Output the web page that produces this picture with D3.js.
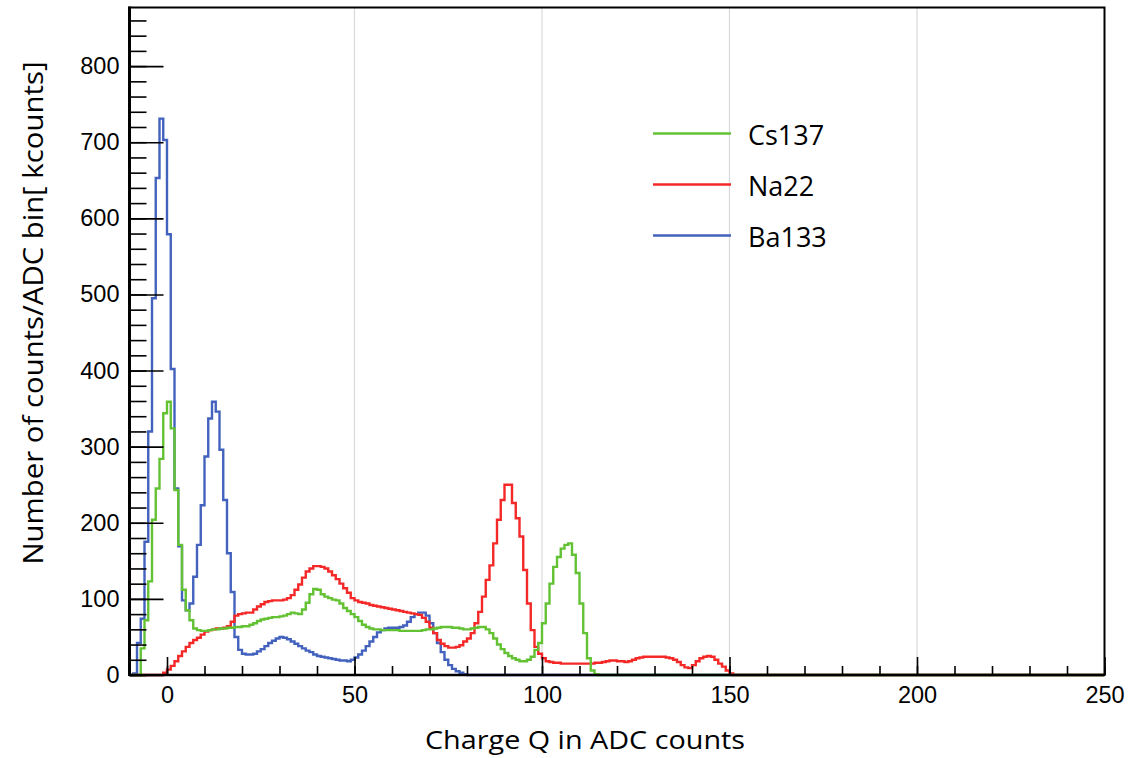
<!DOCTYPE html>
<html>
<head>
<meta charset="utf-8">
<script src="https://cdn.jsdelivr.net/npm/d3@7"></script>
<style>
  body { margin: 0; background: #fff; }
  svg { display: block; }
  .tick text { font-family: "Liberation Sans", Arial, sans-serif; font-size: 23.5px; fill: #000; }
</style>
</head>
<body>
<div id="container"></div>
<script>
// histogram range, 1 ADC count per bin
const xMin = -10, xMax = 250;
const yMax = 877;

// Ba133, first bin starts at -9
const ba133Start = -9;
const ba133 = [2, 42, 74, 175, 320, 495, 653, 731, 703, 579, 402, 245, 169, 98, 85, 94, 129, 171, 223, 287,
  337, 359, 346, 296, 230, 160, 109, 50, 33, 28, 27, 27, 28, 31, 34, 38, 42, 45, 48, 50,
  49, 47, 44, 41, 38, 35, 32, 30, 27, 25, 24, 23, 22, 21, 20, 19, 19, 18, 20, 23,
  27, 32, 38, 44, 50, 56, 59, 61, 62, 62, 62, 63, 65, 70, 76, 80, 82, 82, 78, 68,
  55, 42, 30, 20, 13, 8, 5, 3, 1];

// Cs137, first bin starts at -7
const cs137Start = -7;
const cs137 = [35, 72, 123, 204, 245, 284, 344, 359, 324, 243, 171, 112, 85, 72, 61, 59, 58, 58, 59, 60,
  60, 61, 61, 62, 62, 63, 63, 64, 64, 66, 68, 71, 73, 74, 75, 76, 76, 77, 78, 80,
  82, 81, 80, 86, 95, 106, 113, 112, 106, 103, 101, 99, 98, 94, 88, 84, 80, 76, 71, 66,
  63, 61, 60, 60, 59, 59, 59, 59, 59, 58, 58, 58, 58, 58, 58, 59, 60, 60, 61, 62,
  63, 63, 63, 62, 62, 61, 60, 60, 61, 62, 63, 63, 60, 55, 48, 40, 34, 29, 25, 22,
  20, 18, 18, 20, 24, 33, 42, 68, 94, 120, 142, 155, 166, 171, 173, 158, 134, 94, 55, 22,
  6, 1];

// Na22, first bin starts at -1
const na22Start = -1;
const na22 = [3, 7, 12, 18, 25, 31, 37, 42, 46, 49, 53, 57, 59, 60, 61, 61, 62, 64, 70, 78,
  80, 81, 82, 82, 86, 90, 93, 96, 97, 98, 98, 98, 99, 101, 105, 112, 119, 128, 136, 140,
  143, 143, 142, 140, 136, 131, 126, 120, 114, 108, 101, 98, 96, 95, 94, 92, 91, 90, 89, 88,
  87, 86, 85, 84, 83, 82, 81, 80, 79, 75, 70, 62, 55, 46, 41, 38, 36, 36, 37, 39,
  44, 48, 55, 68, 83, 103, 125, 144, 173, 204, 230, 250, 250, 226, 206, 182, 138, 94, 59, 37,
  28, 22, 18, 17, 16, 16, 15, 15, 15, 15, 15, 15, 15, 15, 15, 16, 16, 17, 18, 19,
  19, 18, 18, 17, 18, 20, 22, 23, 24, 24, 24, 24, 24, 24, 23, 22, 20, 17, 13, 10,
  9, 13, 18, 22, 24, 25, 24, 20, 15, 11, 6, 2];

const seriesNames = ["Cs137", "Na22", "Ba133"];
const xMajorTicks = [0, 50, 100, 150, 200, 250];
const xMinorTicks = d3.range(-10, 251, 10);
const yMajorTicks = [0, 100, 200, 300, 400, 500, 600, 700, 800];
const yMinorTicks = d3.range(0, 861, 20);
const gridValues = [50, 100, 150, 200];

const colors = { Cs137: "#63c234", Na22: "#f52828", Ba133: "#4262bd" };

const W = 1137, H = 758;
const pLeft = 129.5, pRight = 1104.5, pTop = 7.5, pBottom = 675;

const svg = d3.select("#container").append("svg").attr("width", W).attr("height", H);

const x = d3.scaleLinear().domain([xMin, xMax]).range([pLeft, pRight]);
const y = d3.scaleLinear().domain([0, yMax]).range([pBottom, pTop]);

// vertical grid
svg.append("g").selectAll("line").data(gridValues).enter().append("line")
    .attr("x1", d => x(d)).attr("x2", d => x(d))
    .attr("y1", pTop).attr("y2", pBottom)
    .attr("stroke", "#d9d9d9").attr("stroke-width", 1.2);

// fill bins from start to the full range
function fullBins(start, values) {
    const bins = [];
    for (let e = xMin; e < xMax; e++) {
        const i = e - start;
        bins.push({ edge: e, v: (i >= 0 && i < values.length) ? values[i] : 0 });
    }
    bins.push({ edge: xMax, v: 0 });
    return bins;
}

const series = [
    { name: "Ba133", bins: fullBins(ba133Start, ba133) },
    { name: "Na22", bins: fullBins(na22Start, na22) },
    { name: "Cs137", bins: fullBins(cs137Start, cs137) }
];

svg.append("clipPath").attr("id", "plot").append("rect")
    .attr("x", pLeft).attr("y", pTop).attr("width", pRight - pLeft).attr("height", pBottom - pTop + 2);

const line = d3.line().x(d => x(d.edge)).y(d => y(d.v)).curve(d3.curveStepAfter);

svg.append("g").attr("clip-path", "url(#plot)").selectAll("path").data(series).enter().append("path")
    .attr("d", d => line(d.bins))
    .attr("fill", "none")
    .attr("stroke", d => colors[d.name])
    .attr("stroke-width", 2.4);

// y ticks inside
svg.append("g").attr("transform", `translate(${pLeft},0)`)
    .call(d3.axisRight(y).tickValues(yMinorTicks).tickSize(17).tickFormat(""))
    .call(g => g.select(".domain").remove())
    .selectAll("line").attr("stroke", "#000").attr("stroke-width", 1.6);
svg.append("g").attr("transform", `translate(${pLeft},0)`)
    .call(d3.axisRight(y).tickValues(yMajorTicks).tickSize(34).tickFormat(""))
    .call(g => g.select(".domain").remove())
    .selectAll("line").attr("stroke", "#000").attr("stroke-width", 1.6);
svg.append("g").attr("transform", `translate(${pLeft},0)`)
    .call(d3.axisLeft(y).tickValues(yMajorTicks).tickSize(0).tickPadding(10))
    .call(g => g.select(".domain").remove());

// x ticks inside
svg.append("g").attr("transform", `translate(0,${pBottom})`)
    .call(d3.axisTop(x).tickValues(xMinorTicks).tickSize(9).tickFormat(""))
    .call(g => g.select(".domain").remove())
    .selectAll("line").attr("stroke", "#000").attr("stroke-width", 1.6);
svg.append("g").attr("transform", `translate(0,${pBottom})`)
    .call(d3.axisTop(x).tickValues(xMajorTicks).tickSize(18).tickFormat(""))
    .call(g => g.select(".domain").remove())
    .selectAll("line").attr("stroke", "#000").attr("stroke-width", 1.6);
svg.append("g").attr("transform", `translate(0,${pBottom})`)
    .call(d3.axisBottom(x).tickValues(xMajorTicks).tickSize(0).tickPadding(11))
    .call(g => g.select(".domain").remove());

// frame
svg.append("rect").attr("x", pLeft).attr("y", pTop).attr("width", pRight - pLeft).attr("height", pBottom - pTop)
    .attr("fill", "none").attr("stroke", "#000").attr("stroke-width", 2);
svg.append("line").attr("x1", pLeft).attr("x2", pLeft).attr("y1", pTop - 1).attr("y2", pBottom + 1)
    .attr("stroke", "#000").attr("stroke-width", 3);
svg.append("line").attr("x1", pLeft).attr("x2", pRight).attr("y1", pBottom).attr("y2", pBottom)
    .attr("stroke", "#000").attr("stroke-width", 2.6);

// axis titles
const titleFont = "'Open Sans', 'Noto Sans', sans-serif";
svg.append("text").attr("x", 585).attr("y", 749).attr("text-anchor", "middle")
    .attr("font-family", titleFont).attr("font-size", 26)
    .attr("textLength", 320).attr("lengthAdjust", "spacingAndGlyphs")
    .text("Charge Q in ADC counts");
svg.append("text").attr("transform", "translate(43,313) rotate(-90)").attr("text-anchor", "middle")
    .attr("font-family", titleFont).attr("font-size", 27)
    .attr("textLength", 503).attr("lengthAdjust", "spacingAndGlyphs")
    .text("Number of counts/ADC bin[ kcounts]");

// legend
const legend = svg.append("g").selectAll("g").data(seriesNames).enter().append("g")
    .attr("transform", (d, i) => `translate(653,${133.5 + i * 51})`);
legend.append("line").attr("x1", 0).attr("x2", 78).attr("y1", 0).attr("y2", 0)
    .attr("stroke", d => colors[d]).attr("stroke-width", 2.4);
legend.append("text").attr("x", 95).attr("y", 11)
    .attr("font-family", titleFont).attr("font-size", 27).text(d => d);
</script>
</body>
</html>
